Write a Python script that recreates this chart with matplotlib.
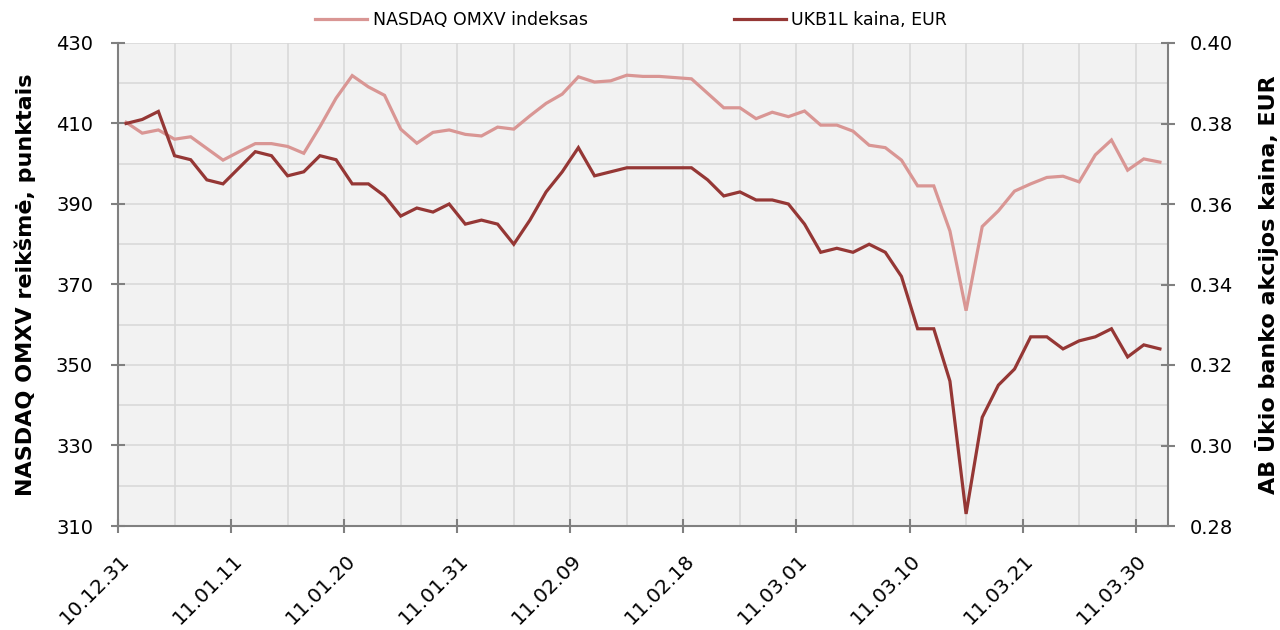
"""
NASDAQ OMXV indeksas ir UKB1L akcijos kaina (10.12.31 - 11.04.01)
Dvi y ašys: kairėje indeksas, dešinėje akcijos kaina
"""

import matplotlib
matplotlib.use("Agg")
import matplotlib.pyplot as plt
from matplotlib.transforms import ScaledTranslation

# Duomenys (prekybos dienos)
tick_labels = ["10.12.31", "11.01.11", "11.01.20", "11.01.31", "11.02.09",
               "11.02.18", "11.03.01", "11.03.10", "11.03.21", "11.03.30"]

omxv = [410.3, 407.6, 408.4, 406.1, 406.7, 403.8, 400.9, 403.0, 405.0, 405.0,
        404.3, 402.6, 409.2, 416.3, 421.9, 419.1, 417.0, 408.6, 405.1, 407.8,
        408.4, 407.3, 406.9, 409.1, 408.6, 411.9, 415.0, 417.3, 421.6, 420.3,
        420.6, 422.0, 421.7, 421.7, 421.4, 421.1, 417.5, 413.9, 413.9, 411.2,
        412.8, 411.7, 413.1, 409.6, 409.6, 408.1, 404.6, 404.0, 400.9, 394.5,
        394.5, 383.3, 363.5, 384.4, 388.3, 393.2, 395.0, 396.6, 396.9, 395.5,
        402.2, 405.9, 398.4, 401.2, 400.4]

ukb1l = [0.380, 0.381, 0.383, 0.372, 0.371, 0.366, 0.365, 0.369, 0.373, 0.372,
         0.367, 0.368, 0.372, 0.371, 0.365, 0.365, 0.362, 0.357, 0.359, 0.358,
         0.360, 0.355, 0.356, 0.355, 0.350, 0.356, 0.363, 0.368, 0.374, 0.367,
         0.368, 0.369, 0.369, 0.369, 0.369, 0.369, 0.366, 0.362, 0.363, 0.361,
         0.361, 0.360, 0.355, 0.348, 0.349, 0.348, 0.350, 0.348, 0.342, 0.329,
         0.329, 0.316, 0.283, 0.307, 0.315, 0.319, 0.327, 0.327, 0.324, 0.326,
         0.327, 0.329, 0.322, 0.325, 0.324]

LABEL_STEP = 7
PINK = "#D99694"
DARK = "#953735"
AXIS_GREY = "#808080"
GRID_GREY = "#D9D9D9"

plt.rcParams["font.family"] = "DejaVu Sans"

fig = plt.figure(figsize=(12.8, 6.3), dpi=100)
ax = fig.add_axes([118 / 1280, 1 - 526 / 630, 1050 / 1280, 483 / 630])
ax2 = ax.twinx()

x = list(range(len(omxv)))
l1, = ax.plot(x, omxv, color=PINK, linewidth=2.3, label="NASDAQ OMXV indeksas",
              solid_joinstyle="miter")
l2, = ax2.plot(x, ukb1l, color=DARK, linewidth=2.3, label="UKB1L kaina, EUR",
               solid_joinstyle="miter")

# Ašys
n = len(omxv)
ax.set_xlim(-0.5, n - 0.5)
ax.set_ylim(310, 430)
ax2.set_ylim(0.28, 0.40)
ax.set_facecolor("#F2F2F2")

major_pos = [-0.5 + LABEL_STEP * k for k in range(len(tick_labels))]
minor_pos = [p + LABEL_STEP / 2 for p in major_pos if p + LABEL_STEP / 2 < n - 0.5]
ax.set_xticks(major_pos)
ax.set_xticks(minor_pos, minor=True)
ax.set_xticklabels(tick_labels, rotation=45, ha="right", va="center",
                   rotation_mode="anchor", fontsize=14.5)
ax.set_yticks(range(310, 431, 20))
ax.set_yticks(range(320, 431, 20), minor=True)
ax2.set_yticks([0.28, 0.30, 0.32, 0.34, 0.36, 0.38, 0.40])
ax2.set_yticklabels([f"{v:.2f}" for v in ax2.get_yticks()])

ax.grid(True, which="both", color=GRID_GREY, linewidth=1.2)
ax.set_axisbelow(True)

for a in (ax, ax2):
    for side in ("left", "right", "bottom"):
        a.spines[side].set_color(AXIS_GREY)
        a.spines[side].set_linewidth(1.5)
    a.spines["top"].set_visible(False)
ax.spines["right"].set_visible(False)
ax2.spines["left"].set_visible(False)
ax2.spines["bottom"].set_visible(False)

ax.tick_params(axis="both", which="major", direction="inout", length=10,
               width=1.5, color=AXIS_GREY, labelsize=14)
ax.tick_params(axis="x", labelsize=14.5)
ax.tick_params(axis="both", which="minor", length=0)
ax.tick_params(axis="y", pad=13)
ax2.tick_params(axis="y", direction="inout", length=10, width=1.5,
                color=AXIS_GREY, labelsize=14, pad=11)

# Pasukti datų užrašai - poslinkis
offset = ScaledTranslation(0.08, -0.2, fig.dpi_scale_trans)
for lab in ax.get_xticklabels():
    lab.set_transform(lab.get_transform() + offset)

# Ašių pavadinimai
y_mid = 1 - (43 + 526) / 2 / 630
fig.text(25 / 1280, y_mid, "NASDAQ OMXV reikšmė, punktais", rotation=90,
         ha="center", va="center", fontsize=16, fontweight="bold")
fig.text(1267 / 1280, y_mid, "AB Ūkio banko akcijos kaina, EUR", rotation=90,
         ha="center", va="center", fontsize=16, fontweight="bold")

fig.legend(handles=[l1, l2], loc="center", bbox_to_anchor=(0.493, 1 - 20 / 630),
           ncol=2, frameon=False, fontsize=12.5, handlelength=3.0,
           handletextpad=0.3, columnspacing=8.4)

plt.savefig("out.png", dpi=100)
plt.close()
